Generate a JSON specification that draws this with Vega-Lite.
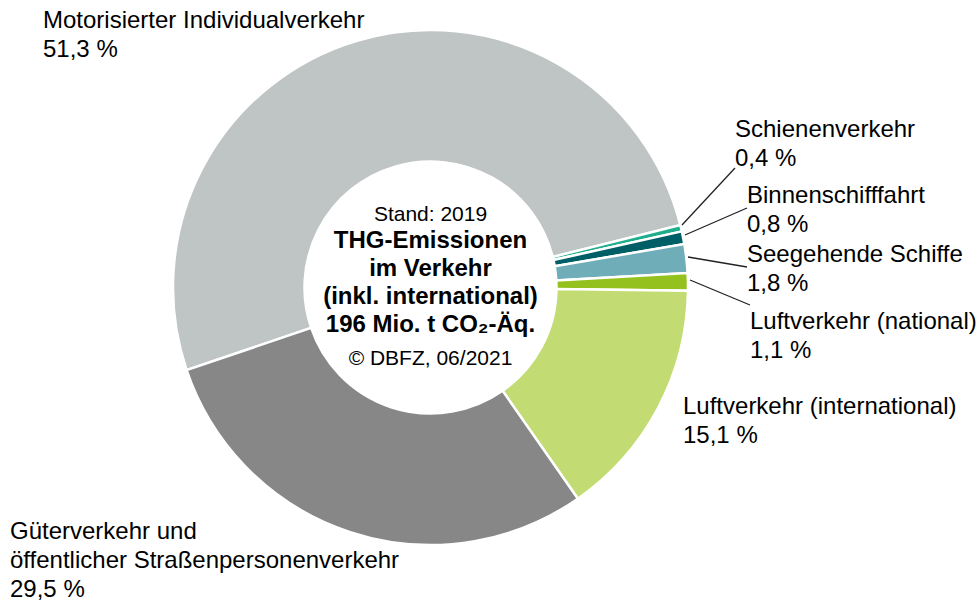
{
  "$schema": "https://vega.github.io/schema/vega-lite/v6.json",
  "autosize": {"type": "none"},
  "width": 861,
  "height": 575,
  "padding": {"left": 0, "top": 0, "right": 118, "bottom": 30},
  "background": "white",
  "config": {"view": {"stroke": null}, "font": "Liberation Sans"},
  "datasets": {
    "slices": [
      {"idx": 1, "category": "Motorisierter Individualverkehr", "share": 51.3},
      {"idx": 2, "category": "Schienenverkehr", "share": 0.4},
      {"idx": 3, "category": "Binnenschifffahrt", "share": 0.8},
      {"idx": 4, "category": "Seegehende Schiffe", "share": 1.8},
      {"idx": 5, "category": "Luftverkehr (national)", "share": 1.1},
      {"idx": 6, "category": "Luftverkehr (international)", "share": 15.1},
      {"idx": 7, "category": "Güterverkehr und öffentlicher Straßenpersonenverkehr", "share": 29.5}
    ],
    "labels": [
      {"label": "Motorisierter Individualverkehr\n51,3 %", "lx": 43, "ly": 28},
      {"label": "Schienenverkehr\n0,4 %", "lx": 735, "ly": 136.5},
      {"label": "Binnenschifffahrt\n0,8 %", "lx": 747, "ly": 203},
      {"label": "Seegehende Schiffe\n1,8 %", "lx": 747, "ly": 262},
      {"label": "Luftverkehr (national)\n1,1 %", "lx": 750, "ly": 329},
      {"label": "Luftverkehr (international)\n15,1 %", "lx": 683, "ly": 414},
      {"label": "Güterverkehr und\nöffentlicher Straßenpersonenverkehr\n29,5 %", "lx": 10, "ly": 539}
    ],
    "leaders": [
      {"x1": 682, "y1": 225, "x2": 735, "y2": 168},
      {"x1": 685, "y1": 235, "x2": 747, "y2": 208},
      {"x1": 688, "y1": 257, "x2": 747, "y2": 267},
      {"x1": 690, "y1": 280, "x2": 750, "y2": 305}
    ],
    "centerNormal": [
      {"t": "Stand: 2019", "cx": 430.5, "cy": 221},
      {"t": "© DBFZ, 06/2021", "cx": 430.5, "cy": 365}
    ],
    "centerBold": [
      {"t": "THG-Emissionen\nim Verkehr\n(inkl. international)\n196 Mio. t CO₂-Äq.", "cx": 430.5, "cy": 248}
    ]
  },
  "layer": [
    {
      "data": {"name": "slices"},
      "mark": {"type": "arc", "innerRadius": 126, "outerRadius": 257.5, "stroke": "white", "strokeWidth": 2.5},
      "encoding": {
        "theta": {"field": "share", "type": "quantitative", "stack": true, "scale": {"range": [4.386, 10.669]}},
        "order": {"field": "idx", "type": "quantitative"},
        "color": {
          "field": "category", "type": "nominal", "legend": null,
          "scale": {
            "domain": ["Motorisierter Individualverkehr", "Schienenverkehr", "Binnenschifffahrt", "Seegehende Schiffe", "Luftverkehr (national)", "Luftverkehr (international)", "Güterverkehr und öffentlicher Straßenpersonenverkehr"],
            "range": ["#BFC4C4", "#1FAE8C", "#005E66", "#6FADB8", "#95C11F", "#C2DC73", "#878787"]
          }
        }
      }
    },
    {
      "data": {"name": "leaders"},
      "mark": {"type": "rule", "color": "#222222", "strokeWidth": 1.3},
      "encoding": {
        "x": {"field": "x1", "type": "quantitative", "axis": null, "scale": {"domain": [0, 861], "nice": false, "zero": false}},
        "y": {"field": "y1", "type": "quantitative", "axis": null, "scale": {"domain": [0, 575], "nice": false, "zero": false, "reverse": true}},
        "x2": {"field": "x2"},
        "y2": {"field": "y2"}
      }
    },
    {
      "data": {"name": "labels"},
      "mark": {"type": "text", "align": "left", "baseline": "alphabetic", "fontSize": 24, "lineHeight": 29, "lineBreak": "\n", "color": "#000000"},
      "encoding": {
        "x": {"field": "lx", "type": "quantitative", "axis": null, "scale": {"domain": [0, 861], "nice": false, "zero": false}},
        "y": {"field": "ly", "type": "quantitative", "axis": null, "scale": {"domain": [0, 575], "nice": false, "zero": false, "reverse": true}},
        "text": {"field": "label"}
      }
    },
    {
      "data": {"name": "centerNormal"},
      "mark": {"type": "text", "align": "center", "baseline": "alphabetic", "fontSize": 21, "color": "#000000"},
      "encoding": {
        "x": {"field": "cx", "type": "quantitative", "axis": null, "scale": {"domain": [0, 861], "nice": false, "zero": false}},
        "y": {"field": "cy", "type": "quantitative", "axis": null, "scale": {"domain": [0, 575], "nice": false, "zero": false, "reverse": true}},
        "text": {"field": "t"}
      }
    },
    {
      "data": {"name": "centerBold"},
      "mark": {"type": "text", "align": "center", "baseline": "alphabetic", "fontSize": 24, "fontWeight": "bold", "lineHeight": 28, "lineBreak": "\n", "color": "#000000"},
      "encoding": {
        "x": {"field": "cx", "type": "quantitative", "axis": null, "scale": {"domain": [0, 861], "nice": false, "zero": false}},
        "y": {"field": "cy", "type": "quantitative", "axis": null, "scale": {"domain": [0, 575], "nice": false, "zero": false, "reverse": true}},
        "text": {"field": "t"}
      }
    }
  ]
}
